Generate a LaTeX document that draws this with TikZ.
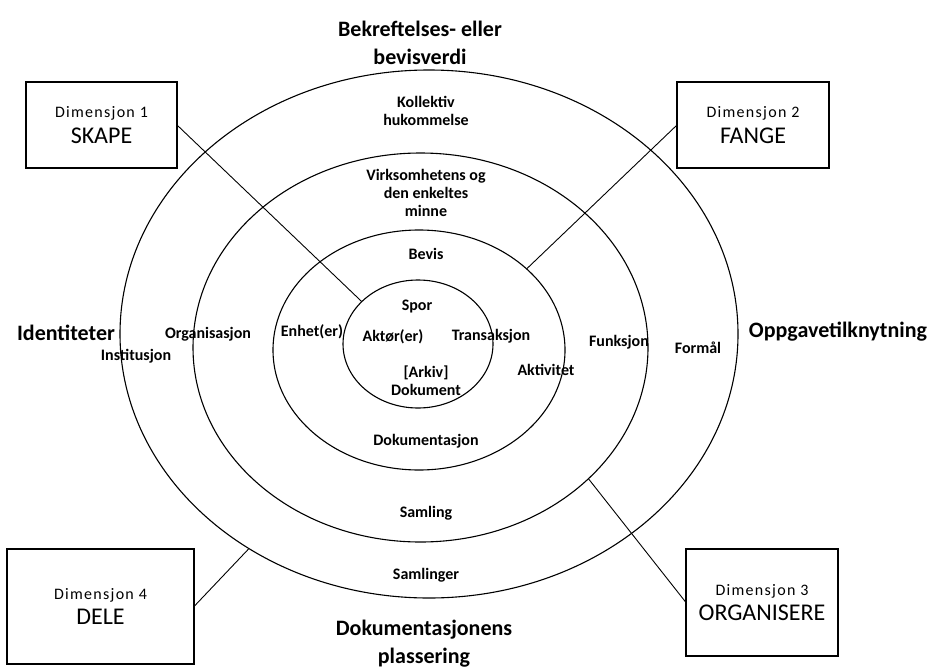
\documentclass[tikz,border=0pt]{standalone}
\usepackage{fontspec}
\setmainfont{Carlito}
\newfontfamily\dimfont{Carlito}[LetterSpace=8]
\usetikzlibrary{shapes.geometric}

\begin{document}
\begin{tikzpicture}[x=1pt, y=-1pt,
  ring/.style={draw, ellipse, line width=1.1pt, inner sep=0pt, outer sep=0pt},
  dimbox/.style={draw, line width=1.3pt, align=center, inner sep=0pt, outer sep=0pt},
  lbl/.style={font=\bfseries\fontsize{16}{18}\selectfont, align=center},
  tema/.style={font=\bfseries\fontsize{22}{28}\selectfont, align=center},
  link/.style={line width=0.9pt}]

  \useasboundingbox (0,0) rectangle (941,669);

  % Rings, inside out
  \node[ring, minimum width=150pt, minimum height=128pt] (kjerne) at (418,344) {};
  \node[ring, minimum width=292pt, minimum height=240pt] (ring2) at (419,350) {};
  \node[ring, minimum width=455pt, minimum height=389pt] (ring3) at (420.5,347.5) {};
  \node[ring, minimum width=618pt, minimum height=528pt] (ytre) at (429,334) {};

  % Dimension boxes
  \node[dimbox, minimum width=151pt, minimum height=86pt] (dim1) at (101.5,125)
    {{\dimfont\fontsize{16}{20}\selectfont Dimensjon 1}\\[6pt]{\fontsize{24}{26}\selectfont SKAPE}};
  \node[dimbox, minimum width=152pt, minimum height=86pt] (dim2) at (753,125)
    {{\dimfont\fontsize{16}{20}\selectfont Dimensjon 2}\\[6pt]{\fontsize{24}{26}\selectfont FANGE}};
  \node[dimbox, minimum width=152pt, minimum height=107pt] (dim3) at (762,602.5)
    {{\dimfont\fontsize{16}{20}\selectfont Dimensjon 3}\\[6pt]{\fontsize{24}{26}\selectfont ORGANISERE}};
  \node[dimbox, minimum width=187pt, minimum height=115pt] (dim4) at (100.5,606.5)
    {{\dimfont\fontsize{16}{20}\selectfont Dimensjon 4}\\[6pt]{\fontsize{24}{26}\selectfont DELE}};

  % Connectors from boxes to the rings
  \draw[link] (dim1.east) -- (kjerne.143);
  \draw[link] (dim2.west) -- (ring2.37);
  \draw[link] (dim3.west) -- (ring3.-38);
  \draw[link] (dim4.east) -- (ytre.230);

  % Axis titles
  \node[tema] (bevisverdi) at (420,43) {Bekreftelses- eller\\bevisverdi};
  \node[tema] (identitet) at (66,333) {Identiteter};
  \node[tema] (oppgave) at (838,332) {Oppgavetilknytning};
  \node[tema] (plassering) at (424,644) {Dokumentasjonens\\plassering};

  % Labels, top half
  \node[lbl] (kollektiv) at (426,111) {Kollektiv\\hukommelse};
  \node[lbl] (minne) at (426,193) {Virksomhetens og\\den enkeltes\\minne};
  \node[lbl] (bevis) at (426,254) {Bevis};
  \node[lbl] (spor) at (417,307) {Spor};

  % Labels, middle row
  \node[lbl] (institusjon) at (136,356) {Institusjon};
  \node[lbl] (organisasjon) at (208,334) {Organisasjon};
  \node[lbl] (enhet) at (312,332) {Enhet(er)};
  \node[lbl] (aktor) at (393,337) {Aktør(er)};
  \node[lbl] (transaksjon) at (491,336) {Transaksjon};
  \node[lbl] (aktivitet) at (546,370) {Aktivitet};
  \node[lbl] (funksjon) at (619,342) {Funksjon};
  \node[lbl] (formal) at (698,348) {Formål};

  % Labels, bottom half
  \node[lbl] (dokument) at (426,381) {[Arkiv]\\Dokument};
  \node[lbl] (dokumentasjon) at (426,441) {Dokumentasjon};
  \node[lbl] (samling) at (426,513) {Samling};
  \node[lbl] (samlinger) at (426,575) {Samlinger};

\end{tikzpicture}
\end{document}
